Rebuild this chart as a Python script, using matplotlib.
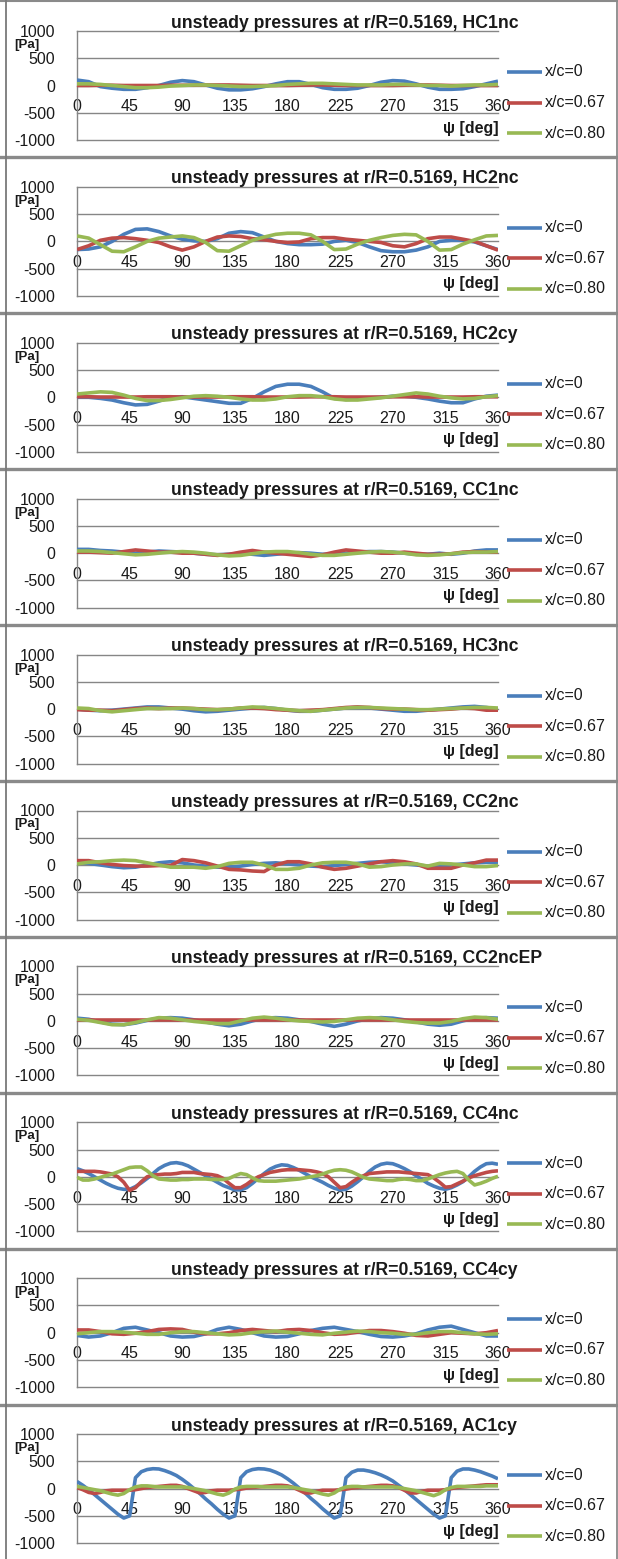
import numpy as np
import matplotlib.pyplot as plt
import matplotlib as mpl
from matplotlib.lines import Line2D

mpl.rcParams.update({
    "font.family": ["Liberation Sans", "DejaVu Sans"],
    "font.size": 11,
})

W, H = 618, 1559
N_PANELS = 10
PANEL_H = H / N_PANELS

psi10 = np.arange(0, 361, 10)
psi5 = np.arange(0, 361, 5)

series_labels = ["x/c=0", "x/c=0.67", "x/c=0.80"]
series_colors = ["#4A7EBB", "#BE4B48", "#98B954"]

# ---- HC1nc (10 deg steps)
hc1nc_x0 = [100, 70, -20, -50, -70, -70, -40, 0, 60, 90, 70, 10, -50, -80, -80, -60, -20, 30, 70,
            70, 20, -40, -70, -70, -50, 0, 60, 90, 80, 30, -30, -70, -70, -60, -20, 30, 80]
hc1nc_x067 = [0, 0, 5, 5, 0, 0, 0, 0, 5, 5, 5, 10, 10, 10, 5, 0, 0, 0, 0,
              5, 10, 10, 5, 0, 0, 0, 0, 0, 5, 10, 10, 5, 0, 0, 0, 0, 0]
hc1nc_x080 = [30, 30, 20, 0, -20, -40, -40, -30, -10, 0, 10, 10, 0, -10, -20, -20, -10, 0, 20,
              30, 40, 40, 30, 20, 10, 10, 10, 20, 20, 10, 0, 0, -10, 0, 10, 10, 20]

# ---- HC2nc
hc2nc_x0 = [-150, -140, -100, 0, 130, 220, 230, 180, 100, 40, 10, 0, 50, 150, 180, 160, 80, 0, -40,
            -60, -60, -50, 0, 20, -20, -100, -170, -190, -190, -160, -100, 0, 20, 20, -10, -80, -150]
hc2nc_x067 = [-150, -80, 20, 60, 70, 50, 20, -20, -100, -160, -100, 0, 80, 100, 90, 50, 30, 0, -20,
              -10, 50, 70, 70, 40, 20, 0, -20, -80, -100, -40, 50, 80, 80, 40, 0, -80, -160]
hc2nc_x080 = [100, 60, -60, -180, -190, -100, 0, 60, 80, 100, 70, -20, -170, -180, -80, 20, 80, 130, 150,
              150, 120, 0, -150, -140, -50, 20, 70, 110, 130, 120, 0, -160, -150, -50, 30, 100, 110]

# ---- HC2cy
hc2cy_x0 = [0, 0, -20, -50, -100, -140, -130, -70, 0, 10, -20, -50, -80, -110, -110, -20, 100, 200, 240,
            240, 200, 100, -20, -40, -30, -10, 0, 20, 20, 0, -30, -70, -100, -100, -30, 20, 40]
hc2cy_x067 = [10, 10, 5, 5, 5, 5, 10, 10, 10, 5, 5, 5, 5, 10, 10, 10, 5, 5, 5,
              5, 10, 10, 10, 5, 5, 5, 5, 10, 10, 10, 5, 5, 5, 5, 10, 10, 10]
hc2cy_x080 = [60, 80, 100, 90, 40, -20, -60, -60, -40, -10, 20, 30, 20, 0, -30, -50, -50, -30, 10,
              30, 30, 10, -30, -50, -50, -30, -10, 20, 50, 80, 60, 20, -10, -30, -20, 10, 30]

# ---- CC1nc
cc1nc_x0 = [70, 70, 50, 40, 20, 0, 20, 40, 30, 20, 0, -20, -30, -20, 0, -20, -40, -20, 0,
            10, 0, -20, -20, 0, 20, 30, 30, 20, 0, -20, -20, 0, -20, 0, 40, 60, 60]
cc1nc_x067 = [20, 20, 10, 0, 30, 60, 40, 20, 20, 0, 0, -20, -40, -20, 20, 50, 20, 0, -20,
              -40, -60, -30, 20, 60, 40, 20, 0, 0, 20, 0, -20, -20, -10, 20, 30, 20, 20]
cc1nc_x080 = [40, 40, 30, 10, -10, -30, -20, 0, 20, 30, 20, 0, -30, -50, -40, -10, 20, 30, 30,
              10, -20, -40, -40, -20, 0, 20, 30, 20, 0, -30, -40, -30, -10, 10, 20, 20, 30]

# ---- HC3nc
hc3nc_x0 = [0, -20, -30, -20, 0, 20, 40, 40, 20, 0, -30, -50, -40, -20, 0, 20, 30, 10, -20,
            -40, -40, -20, 0, 20, 30, 20, 0, -20, -40, -40, -20, 0, 20, 40, 50, 30, 0]
hc3nc_x067 = [-10, -20, -20, -30, -10, 10, 20, 10, 20, 20, 10, 0, -10, 0, 20, 20, 10, -10, -20,
              -30, -20, -10, 10, 30, 40, 30, 10, 0, 0, -10, -20, -10, 0, 20, 10, -20, -20]
hc3nc_x080 = [20, 10, -30, -50, -30, -10, 10, 10, 10, 20, 10, -10, -10, 0, 20, 40, 30, 10, -10,
              -30, -40, -20, 0, 20, 30, 30, 20, 10, 0, -10, -10, 0, 10, 20, 30, 30, 20]

# ---- CC2nc
cc2nc_x0 = [40, 30, 0, -30, -50, -40, 0, 40, 60, 40, 0, -20, -40, -40, -20, 10, 30, 40, 20,
            0, -20, -30, -10, 10, 30, 50, 60, 40, 20, 0, -20, -20, 0, 20, 40, 50, 50]
cc2nc_x067 = [80, 80, 40, 10, -10, -20, -20, -10, -10, 100, 80, 40, -20, -80, -90, -110, -120, 0, 60,
              60, 20, -40, -80, -60, -20, 20, 60, 80, 60, 20, -60, -60, -60, 0, 40, 90, 90]
cc2nc_x080 = [20, 50, 60, 80, 90, 80, 40, 0, -40, -40, -40, -60, -30, 30, 50, 50, 0, -80, -80,
              -60, 0, 40, 50, 50, 20, -40, -30, 0, 20, 20, -20, 30, 20, 0, -30, -30, -10]

# ---- CC2ncEP
cc2ncep_x0 = [50, 30, -20, -60, -70, -40, 10, 50, 60, 50, 20, -20, -60, -90, -60, 0, 50, 60, 50,
              20, -10, -60, -100, -60, 0, 40, 60, 50, 20, -20, -60, -80, -60, 0, 50, 60, 50]
cc2ncep_x067 = [10, 10, 10, 10, 10, 10, 10, 10, 10, 10, 10, 10, 10, 10, 10, 10, 10, 10, 10,
                10, 10, 10, 10, 10, 10, 10, 10, 10, 10, 10, 10, 10, 10, 10, 10, 10, 10]
cc2ncep_x080 = [30, 10, -30, -70, -70, -30, 20, 60, 50, 20, -10, -30, -50, -50, 0, 50, 70, 50, 20,
                0, -10, -20, -10, 20, 50, 60, 50, 20, -10, -30, -40, -40, -10, 40, 70, 60, 30]

# ---- CC4nc (5 deg steps)
cc4nc_x0 = [150, 110, 60, 0, -60, -120, -170, -210, -230, -230, -180, -110, -30, 60, 150, 210, 250, 260, 240,
            200, 140, 80, 20, -40, -100, -160, -200, -240, -240, -200, -120, -30, 60, 140, 190, 220, 210,
            170, 120, 60, 0, -50, -100, -160, -210, -240, -230, -170, -90, 0, 100, 180, 230, 250, 240,
            200, 150, 90, 20, -50, -120, -170, -210, -230, -200, -150, -90, 0, 100, 180, 240, 250, 230]
cc4nc_x067 = [100, 100, 100, 100, 90, 70, 50, 0, -100, -250, -200, -90, 0, 30, 40, 50, 50, 60, 80,
              80, 80, 60, 50, 40, 20, -30, -120, -200, -200, -140, -60, 0, 40, 80, 100, 120, 130,
              130, 130, 120, 110, 90, 60, 0, -100, -200, -180, -100, -30, 20, 60, 70, 80, 90, 90,
              90, 80, 70, 60, 50, 40, -20, -100, -190, -180, -130, -80, -20, 20, 50, 80, 100, 110]
cc4nc_x080 = [-10, -60, -60, -40, -10, 20, 50, 90, 130, 170, 180, 180, 110, 20, -40, -50, -60, -60, -50,
              -50, -40, -40, -40, -50, -50, -50, -30, 20, 60, 40, -20, -70, -80, -80, -80, -70, -60,
              -50, -40, -20, 0, 20, 50, 90, 120, 130, 120, 90, 40, -10, -40, -50, -60, -70, -70,
              -50, -40, -50, -70, -70, -40, 0, 40, 70, 90, 100, 60, -60, -150, -120, -80, -30, 10]

# ---- CC4cy (10 deg steps)
cc4cy_x0 = [-50, -80, -60, 0, 80, 100, 50, 0, -60, -80, -70, -20, 60, 100, 60, 0, -60, -80, -70,
            -20, 40, 80, 100, 60, 20, -30, -70, -80, -60, -20, 50, 100, 120, 60, 0, -60, -60]
cc4cy_x067 = [50, 50, 20, -20, -30, -10, 20, 60, 70, 60, 10, -20, -20, 0, 40, 60, 40, 20, 50,
              60, 40, 0, -30, -20, 10, 40, 40, 20, -10, -50, -60, -30, 0, -10, -20, 0, 40]
cc4cy_x080 = [-20, 0, 20, 20, 10, -10, -30, -30, 0, 20, 20, 0, -20, -40, -30, 0, 20, 30, 10,
              -10, -30, -40, -10, 10, 30, 20, 0, -10, -30, -30, 0, 20, 20, 0, -20, -30, -20]

# ---- AC1cy (5 deg steps)
ac1cy_x0 = [130, 60, -20, -110, -200, -290, -380, -470, -540, -500, 200, 310, 350, 365, 360, 330, 290, 240, 170,
            90, 0, -90, -190, -280, -380, -470, -540, -500, 200, 310, 350, 365, 360, 340, 300, 250, 180,
            100, 10, -80, -180, -270, -370, -460, -540, -500, 200, 300, 340, 340, 320, 290, 250, 200, 140,
            60, -20, -110, -200, -290, -380, -470, -540, -500, 200, 320, 360, 360, 340, 310, 270, 230, 180]
ac1cy_x067 = [20, -20, -70, -90, -70, -40, -30, -30, -30, -30, -20, 0, 20, 30, 40, 50, 60, 60, 40,
              0, -40, -80, -70, -40, -30, -30, -30, -20, -10, 10, 20, 30, 40, 50, 60, 60, 50,
              20, -30, -80, -80, -50, -30, -30, -30, -20, -10, 10, 20, 30, 40, 50, 60, 60, 50,
              20, -30, -80, -80, -50, -30, -30, -30, -20, 0, 20, 30, 40, 50, 60, 70, 70, 70]
ac1cy_x080 = [40, 20, 0, -20, -40, -70, -100, -120, -90, -20, 30, 50, 50, 40, 30, 30, 30, 30, 30,
              20, 0, -20, -40, -70, -100, -120, -80, -10, 30, 40, 40, 40, 30, 30, 30, 30, 30,
              20, 0, -20, -40, -70, -100, -120, -80, -10, 30, 40, 40, 30, 30, 30, 30, 30, 30,
              20, 0, -20, -40, -70, -100, -130, -90, -20, 20, 40, 40, 40, 40, 40, 50, 50, 50]

panels = [
    ("HC1nc", psi10, [hc1nc_x0, hc1nc_x067, hc1nc_x080]),
    ("HC2nc", psi10, [hc2nc_x0, hc2nc_x067, hc2nc_x080]),
    ("HC2cy", psi10, [hc2cy_x0, hc2cy_x067, hc2cy_x080]),
    ("CC1nc", psi10, [cc1nc_x0, cc1nc_x067, cc1nc_x080]),
    ("HC3nc", psi10, [hc3nc_x0, hc3nc_x067, hc3nc_x080]),
    ("CC2nc", psi10, [cc2nc_x0, cc2nc_x067, cc2nc_x080]),
    ("CC2ncEP", psi10, [cc2ncep_x0, cc2ncep_x067, cc2ncep_x080]),
    ("CC4nc", psi5, [cc4nc_x0, cc4nc_x067, cc4nc_x080]),
    ("CC4cy", psi10, [cc4cy_x0, cc4cy_x067, cc4cy_x080]),
    ("AC1cy", psi5, [ac1cy_x0, ac1cy_x067, ac1cy_x080]),
]

x_ticks = [0, 45, 90, 135, 180, 225, 270, 315, 360]
y_ticks = [-1000, -500, 0, 500, 1000]
GRID = "#868686"
FRAME = "#8A8A8A"
TXT = "#1A1A1A"
LW = 2.6


def fx(x):
    return x / W


def fy(y):
    return 1 - y / H


fig = plt.figure(figsize=(W / 100, H / 100), dpi=100)

for i, (case, psi, ys) in enumerate(panels):
    top = i * PANEL_H
    # plot box: +1000 at top+31 px, -1000 at top+140 px
    ax = fig.add_axes([fx(77), fy(top + 140), fx(498) - fx(77), 109 / H])
    ax.set_xlim(0, 360)
    ax.set_ylim(-1000, 1000)
    for yv in y_ticks:
        ax.axhline(yv, color=GRID, lw=1.0, zorder=0, clip_on=False)
    for y, c in zip(ys, series_colors):
        ax.plot(psi, y, color=c, lw=LW, solid_capstyle="butt", zorder=3)
    for s in ["top", "right", "bottom"]:
        ax.spines[s].set_visible(False)
    ax.spines["left"].set_color(GRID)
    ax.spines["left"].set_linewidth(1.0)
    ax.set_xticks([])
    ax.set_yticks(y_ticks)
    ax.set_yticklabels([str(v) for v in y_ticks])
    ax.tick_params(axis="y", length=0, pad=16, labelsize=11.5, colors=TXT)
    ax.patch.set_alpha(0)
    # category labels sit just under the zero axis
    for xv in x_ticks:
        ax.text(xv, -390, str(xv), ha="center", va="center", fontsize=11.5,
                color=TXT, zorder=2)

    fig.text(fx(171), fy(top + 23), f"unsteady pressures at r/R=0.5169, {case}",
             ha="left", va="center", fontsize=12.7, fontweight="bold", color=TXT)
    fig.text(fx(14), fy(top + 45), "[Pa]", ha="left", va="center",
             fontsize=9.5, fontweight="bold", color=TXT)
    fig.text(fx(499), fy(top + 128), "\u03c8 [deg]", ha="right", va="center",
             fontsize=11.5, fontweight="bold", color=TXT)

    # legend
    for k, (lab, c) in enumerate(zip(series_labels, series_colors)):
        yy = fy(top + 72 + k * 30.5)
        fig.add_artist(Line2D([fx(507), fx(542)], [yy, yy], color=c, lw=LW,
                              solid_capstyle="butt"))
        fig.text(fx(545), yy, lab, ha="left", va="center", fontsize=11.5, color=TXT)

    # separator between charts
    if i > 0:
        fig.add_artist(Line2D([0, 1], [fy(top + 1.5), fy(top + 1.5)], color=FRAME, lw=2.4))

# outer frame
fig.add_artist(Line2D([0, 1], [fy(1), fy(1)], color=FRAME, lw=1.5))
fig.add_artist(Line2D([fx(5.5), fx(5.5)], [0, 1], color="#7A7A7A", lw=1.3))
fig.add_artist(Line2D([fx(616.5), fx(616.5)], [0, 1], color=FRAME, lw=1.3))

fig.savefig("out.png", dpi=100)
